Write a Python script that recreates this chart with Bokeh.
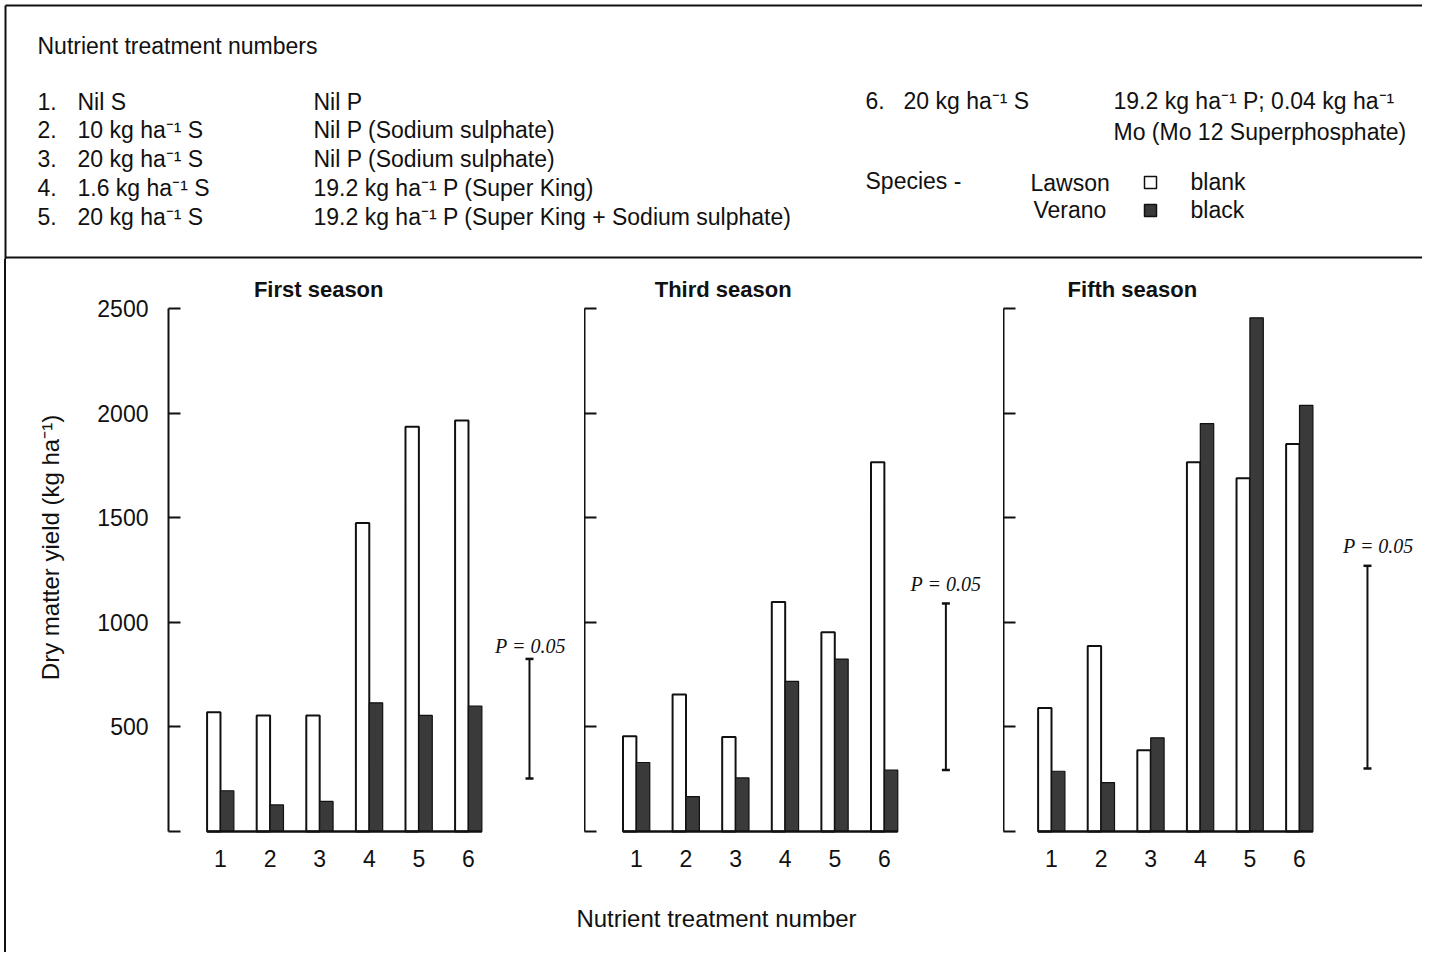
from bokeh.plotting import figure
from bokeh.layouts import column, row
from bokeh.models import Range1d, FixedTicker, Spacer, ColumnDataSource
from bokeh.transform import dodge
from bokeh.core.properties import value
from bokeh.embed import file_html
from bokeh.resources import INLINE

# ---------------- data ----------------
treatments = [1, 2, 3, 4, 5, 6]
treatment_labels = ["1", "2", "3", "4", "5", "6"]
y_ticks = [0, 500, 1000, 1500, 2000, 2500]

lawson_first = [570, 555, 555, 1475, 1935, 1965]
verano_first = [195, 127, 144, 615, 555, 600]
lawson_third = [455, 655, 452, 1097, 953, 1765]
verano_third = [330, 167, 256, 718, 824, 294]
lawson_fifth = [590, 887, 388, 1765, 1688, 1852]
verano_fifth = [288, 234, 448, 1950, 2455, 2037]

season_titles = ["First season", "Third season", "Fifth season"]
lsd_bottom = [253, 294, 301]
lsd_top = [825, 1090, 1270]
lsd_label = "P = 0.05"

header_title = "Nutrient treatment numbers"
treat_nums = ["1.", "2.", "3.", "4.", "5."]
sulphur_rates = ["Nil S", "10 kg ha\u207b\u00b9 S", "20 kg ha\u207b\u00b9 S",
                 "1.6 kg ha\u207b\u00b9 S", "20 kg ha\u207b\u00b9 S"]
p_sources = ["Nil P", "Nil P (Sodium sulphate)", "Nil P (Sodium sulphate)",
             "19.2 kg ha\u207b\u00b9 P (Super King)",
             "19.2 kg ha\u207b\u00b9 P (Super King + Sodium sulphate)"]
treat6_num = "6."
treat6_rate = "20 kg ha\u207b\u00b9 S"
treat6_source = ["19.2 kg ha\u207b\u00b9 P; 0.04 kg ha\u207b\u00b9", "Mo (Mo 12 Superphosphate)"]
species_word = "Species  -"
species = ["Lawson", "Verano"]
species_key = ["blank", "black"]
y_label = "Dry matter yield (kg ha\u207b\u00b9)"
x_label = "Nutrient treatment number"

# ---------------- style ----------------
SANS = value("Liberation Sans")
SERIF = value("Liberation Serif")
INK = "#111111"
DARK = "#3a3a3a"
BW = 0.27           # bar width in treatment units
PX_PER_UNIT = 49.6  # horizontal scale (px per treatment)
HDR_H = 259

# ---------------- header ----------------
hdr = figure(width=1422, height=HDR_H, x_range=Range1d(0, 1422), y_range=Range1d(HDR_H, 0),
             toolbar_location=None, output_backend="svg", min_border=0,
             x_axis_type=None, y_axis_type=None, outline_line_color=None)
hdr.segment(x0=[5, 5, 5], y0=[5, 5, 257], x1=[1422, 5, 1422], y1=[5, HDR_H, 257],
            line_color=INK, line_width=2)

def htext(fig, xs, ys, texts, size="23px", align="left"):
    fig.text(x=xs, y=ys, text=texts, text_font=SANS, text_font_size=size,
             text_color=INK, text_align=align, text_baseline="middle")

htext(hdr, [37], [45], [header_title])
rows_y = [101, 129, 158, 187, 216]
htext(hdr, [37] * 5, rows_y, treat_nums)
htext(hdr, [77] * 5, rows_y, sulphur_rates)
htext(hdr, [313] * 5, rows_y, p_sources)
htext(hdr, [865], [100], [treat6_num])
htext(hdr, [903], [100], [treat6_rate])
htext(hdr, [1113] * 2, [100, 131], treat6_source)
htext(hdr, [865], [180], [species_word])
htext(hdr, [1030, 1033], [182, 209], species)
htext(hdr, [1190] * 2, [181, 209], species_key)
hdr.scatter(x=[1150] * 2, y=[182, 210], marker="square", size=12,
            fill_color=["white", DARK], line_color=INK, line_width=1.5)

# ---------------- panels ----------------
PANEL_H = 616
Y_RANGE = (-19, 2734)

def panel(lawson, verano, title, lo, hi, width, border_left, x_start,
          title_x, lsd_x, p_x, p_y, first):
    frame_w = width - border_left
    p = figure(width=width, height=PANEL_H,
               x_range=Range1d(x_start, x_start + frame_w / PX_PER_UNIT),
               y_range=Range1d(*Y_RANGE),
               toolbar_location=None, output_backend="svg",
               min_border_left=border_left, min_border_right=0,
               min_border_top=0, min_border_bottom=40,
               outline_line_color=None, background_fill_color="white",
               border_fill_color="white")
    p.grid.visible = False
    src = ColumnDataSource(dict(t=treatments, lawson=lawson, verano=verano))
    p.vbar(x=dodge("t", -BW / 2, range=p.x_range), top="lawson", bottom=0, width=BW,
           source=src, fill_color="white", line_color=INK, line_width=2)
    p.vbar(x=dodge("t", BW / 2, range=p.x_range), top="verano", bottom=0, width=BW,
           source=src, fill_color=DARK, line_color=INK, line_width=1.2)
    p.segment(x0=[treatments[0] - BW], y0=[0], x1=[treatments[-1] + BW], y1=[0],
              line_color=INK, line_width=2.5)
    # LSD bar
    p.segment(x0=[lsd_x], y0=[lo], x1=[lsd_x], y1=[hi], line_color=INK, line_width=2)
    p.scatter(x=[lsd_x, lsd_x], y=[lo, hi], marker="dash", size=8,
              line_color=INK, line_width=2.5)
    p.text(x=[p_x], y=[p_y], text=[lsd_label], text_font=SERIF,
           text_font_style="italic", text_font_size="20px", text_color=INK,
           text_align="center", text_baseline="middle")
    p.text(x=[title_x], y=[2591], text=[title], text_font=SANS,
           text_font_style="bold", text_font_size="22px", text_color=INK,
           text_align="center", text_baseline="middle")
    # y axis
    ya = p.yaxis[0]
    ya.ticker = FixedTicker(ticks=y_ticks)
    ya.bounds = (0, 2500)
    ya.major_tick_in = 12
    ya.major_tick_out = 0
    ya.minor_tick_line_color = None
    ya.axis_line_width = 2
    ya.axis_line_color = INK
    ya.major_tick_line_width = 2
    ya.major_tick_line_color = INK
    if first:
        ya.major_label_overrides = {0: ""}
        ya.major_label_standoff = 20
        ya.major_label_text_font = "Liberation Sans"
        ya.major_label_text_font_size = "23px"
        ya.major_label_text_color = INK
        ya.axis_label = y_label
        ya.axis_label_text_font = "Liberation Sans"
        ya.axis_label_text_font_size = "24px"
        ya.axis_label_text_font_style = "normal"
        ya.axis_label_text_color = INK
        ya.axis_label_standoff = 30
    else:
        ya.major_label_overrides = {t: "" for t in y_ticks}
        ya.major_label_standoff = 0
        ya.major_label_text_font_size = "0px"
    # x axis
    xa = p.xaxis[0]
    xa.ticker = FixedTicker(ticks=treatments)
    xa.major_label_overrides = dict(zip(treatments, treatment_labels))
    xa.axis_line_color = None
    xa.major_tick_line_color = None
    xa.minor_tick_line_color = None
    xa.major_label_standoff = 8
    xa.major_label_text_font = "Liberation Sans"
    xa.major_label_text_font_size = "23px"
    xa.major_label_text_color = INK
    return p

p1 = panel(lawson_first, verano_first, season_titles[0], lsd_bottom[0], lsd_top[0],
           578, 162, -0.048, 2.98, 7.23, 7.25, 889, True)
p2 = panel(lawson_third, verano_third, season_titles[1], lsd_bottom[1], lsd_top[1],
           419, 0, -0.046, 2.75, 7.24, 7.24, 1185, False)
p3 = panel(lawson_fifth, verano_fifth, season_titles[2], lsd_bottom[2], lsd_top[2],
           419, 0, 0.032, 2.63, 7.37, 7.59, 1367, False)

XL_H = 952 - HDR_H - PANEL_H
xl = figure(width=1416, height=XL_H, x_range=Range1d(6, 1422), y_range=Range1d(XL_H, 0),
            toolbar_location=None, output_backend="svg", min_border=0,
            x_axis_type=None, y_axis_type=None, outline_line_color=None)
xl.text(x=[716], y=[918 - HDR_H - PANEL_H], text=[x_label], text_font=SANS,
        text_font_size="24px", text_color=INK, text_align="center", text_baseline="middle")

gap = Spacer(width=4, height=PANEL_H + XL_H)
left_rule = Spacer(width=2, height=PANEL_H + XL_H, styles={"background-color": INK})
layout = column(hdr, row(gap, left_rule, column(row(p1, p2, p3), xl)))

open("out.html", "w").write(file_html(layout, INLINE))
